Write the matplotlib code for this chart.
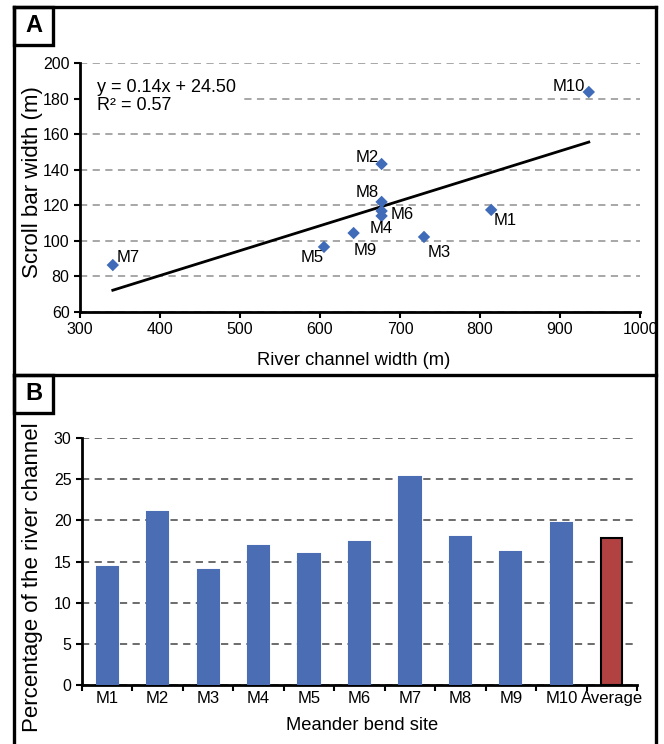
import matplotlib.pyplot as plt
from matplotlib.lines import Line2D
from matplotlib.patches import Rectangle

plt.rcParams['font.family'] = ['Liberation Sans', 'DejaVu Sans']

# panel A: scroll bar width vs river channel width
sites = ["M1", "M2", "M3", "M4", "M5", "M6", "M7", "M8", "M9", "M10"]
channel_w = [814, 677, 730, 677, 605, 677, 341, 677, 642, 936]
scroll_w = [117.4, 143.2, 102.2, 114.0, 96.6, 116.8, 86.4, 121.9, 104.4, 183.7]
slope, intercept, r2 = 0.14, 24.50, 0.57
# label offsets in pixels
lbl_off = {"M1": (14, -11), "M2": (-14, 7), "M3": (15, -16), "M4": (0, -13),
           "M5": (-12, -11), "M6": (21, -4), "M7": (15, 8), "M8": (-14, 9),
           "M9": (12, -17), "M10": (-20, 5)}

# panel B: scroll bar width as percentage of channel width
bar_cats = sites + ["Average"]
pct = [14.3, 21.0, 14.0, 16.9, 15.9, 17.4, 25.3, 18.0, 16.1, 19.7, 17.8]

W, H = 664, 744
fig = plt.figure(figsize=(W / 100, H / 100), dpi=100)


def box(l, t, r, b):
    return [l / W, 1 - b / H, (r - l) / W, (b - t) / H]


blue = "#4a6db3"
red = "#b24242"

# ---- panel A
ax = fig.add_axes(box(80, 63, 640, 312))
ax.scatter(channel_w, scroll_w, marker="D", s=40, color="#3f6bb8", zorder=3,
           edgecolor="none")
x0, x1 = min(channel_w), max(channel_w)
ax.plot([x0, x1], [slope * x0 + intercept, slope * x1 + intercept],
        color="black", lw=2, zorder=2)
for s, x, y in zip(sites, channel_w, scroll_w):
    ax.annotate(s, (x, y), xytext=lbl_off[s], textcoords="offset pixels",
                ha="center", va="center", fontsize=12)
# white patch behind the equation hides the 180 grid line
ax.add_patch(Rectangle((300, 177), 204, 7, facecolor="white", edgecolor="none",
                       zorder=1.5))
ax.text(321, 181.2, f"y = {slope:.2f}x + {intercept:.2f}\nR\u00b2 = {r2:.2f}",
        fontsize=13, va="center", ha="left", linespacing=1.1, zorder=4)
ax.set_xlim(300, 1000)
ax.set_ylim(60, 200)
ax.set_xticks(range(300, 1001, 100))
ax.set_yticks(range(60, 201, 20))
ax.yaxis.grid(True, ls=(0, (4, 3)), color="#a0a0a0", lw=1.3)
ax.set_axisbelow(True)
ax.set_xlabel("River channel width (m)", fontsize=13.2)
ax.set_ylabel("Scroll bar width (m)", fontsize=16)
ax.xaxis.set_label_coords(0.488, -0.193)
ax.yaxis.set_label_coords(-0.084, 0.52)
ax.xaxis.label.set_va("center")
ax.yaxis.label.set_va("center")

# ---- panel B
bx = fig.add_axes(box(82, 438, 637, 685))
pos = range(len(bar_cats))
colors = [blue] * len(sites) + [red]
edges = [blue] * len(sites) + ["black"]
bx.bar(pos, pct, width=0.42, color=colors, edgecolor=edges, lw=1.5, zorder=3)
bx.set_xlim(-0.5, len(bar_cats) - 0.5)
bx.set_ylim(0, 30)
bx.set_yticks(range(0, 31, 5))
bx.set_xticks(list(pos))
bx.set_xticklabels(bar_cats)
bx.set_xticks([i - 0.5 for i in range(len(bar_cats) + 1)], minor=True)
bx.yaxis.grid(True, ls=(0, (4, 3)), color="#606060", lw=1.3)
bx.set_axisbelow(True)
bx.set_xlabel("Meander bend site", fontsize=13.2)
bx.set_ylabel("Percentage of the river channel", fontsize=16)
bx.xaxis.set_label_coords(0.504, -0.162)
bx.yaxis.set_label_coords(-0.09, 0.435)
bx.xaxis.label.set_va("center")
bx.yaxis.label.set_va("center")

for a in (ax, bx):
    for sp in ("top", "right"):
        a.spines[sp].set_visible(False)
    for sp in ("left", "bottom"):
        a.spines[sp].set_linewidth(2)
    a.tick_params(axis="both", which="major", labelsize=11.5, width=1.5, length=4)

bx.tick_params(axis="x", which="major", length=0, pad=4, labelsize=12)
bx.tick_params(axis="x", which="minor", length=4, width=1.5)

# ---- panel frames and letters
frame = dict(color="black", lw=2.4, transform=fig.transFigure)
fx = lambda v: v / W
fy = lambda v: 1 - v / H
fig.add_artist(Line2D([fx(14), fx(14)], [fy(7), fy(760)], **frame))
fig.add_artist(Line2D([fx(656), fx(656)], [fy(7), fy(760)], **frame))
fig.add_artist(Line2D([fx(14), fx(656)], [fy(7), fy(7)], **frame))
fig.add_artist(Line2D([fx(14), fx(656)], [fy(375), fy(375)], **frame))
for letter, top in (("A", 7), ("B", 375)):
    fig.add_artist(Rectangle((fx(14), fy(top + 38)), fx(53) - fx(14), 38 / H,
                             facecolor="white", edgecolor="black", lw=2.4,
                             transform=fig.transFigure))
    fig.text(fx(33.5), fy(top + 19), letter, ha="center", va="center",
             fontsize=17, fontweight="bold")

fig.savefig("out.png", dpi=100)
